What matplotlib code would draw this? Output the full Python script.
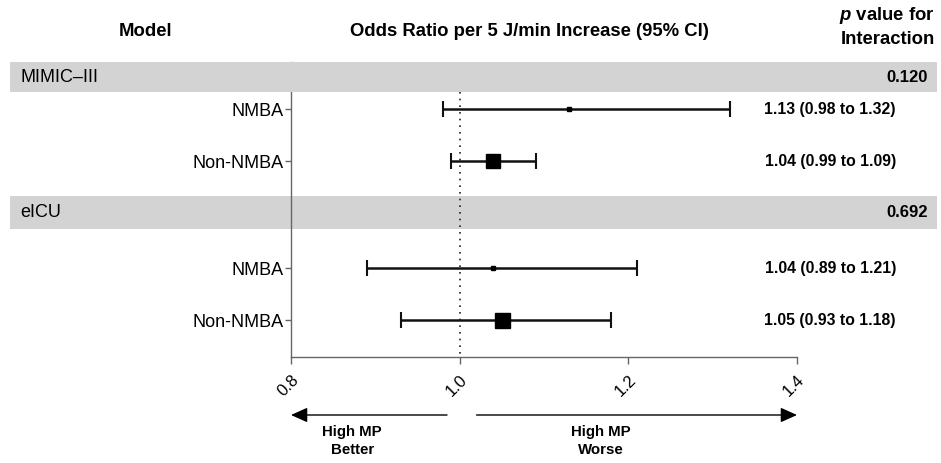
import numpy as np
import matplotlib.pyplot as plt
from matplotlib.patches import Rectangle
from matplotlib.transforms import blended_transform_factory

plt.rcParams['font.family'] = ['Liberation Sans', 'DejaVu Sans']
plt.rcParams['mathtext.fontset'] = 'custom'
plt.rcParams['mathtext.rm'] = 'Liberation Sans:bold'
plt.rcParams['mathtext.it'] = 'Liberation Sans:italic:bold'

# data
groups = ["MIMIC\u2013III", "eICU"]
p_interaction = ["0.120", "0.692"]
subgroups = ["NMBA", "Non-NMBA", "NMBA", "Non-NMBA"]
or_est = [1.13, 1.04, 1.04, 1.05]
ci_lo = [0.98, 0.99, 0.89, 0.93]
ci_hi = [1.32, 1.09, 1.21, 1.18]
box_px = [5, 14, 4, 15]          # marker size (weight) in pixels
xticks = [0.8, 1.0, 1.2, 1.4]

# layout (row positions, in row units)
group_y = [0.0, 2.6]
row_y = [0.62, 1.62, 3.67, 4.67]

fig = plt.figure(figsize=(9.41, 4.63), dpi=100)
ax = fig.add_axes([291 / 941, 1 - 357 / 463, 506 / 941, (357 - 62) / 463])
ax.set_xlim(0.8, 1.4)
ax.set_ylim(5.38, -0.29)
ax.patch.set_alpha(0)

band_tr = blended_transform_factory(fig.transFigure, ax.transData)
for i, (g, p) in enumerate(zip(groups, p_interaction)):
    y = group_y[i]
    h = 0.58 if i == 0 else 0.64
    ax.add_patch(Rectangle((10 / 941, y - h / 2), 927 / 941, h, transform=band_tr,
                           facecolor='#d3d3d3', edgecolor='none', clip_on=False,
                           zorder=3 if i == 0 else 0.5))
    ax.text(20 / 941, y, g, transform=band_tr, ha='left', va='center',
            fontsize=13, zorder=4)
    ax.text(928 / 941, y, p, transform=band_tr, ha='right', va='center',
            fontsize=12, fontweight='bold', zorder=4)

ax.vlines(1.0, 0.29, 5.38, colors='#222222', linestyles=(0, (1, 3)), linewidth=1.2, zorder=1)

for i in range(len(or_est)):
    y = row_y[i]
    ax.errorbar(or_est[i], y, xerr=[[or_est[i] - ci_lo[i]], [ci_hi[i] - or_est[i]]],
                fmt='s', color='black', ecolor='#111111', elinewidth=1.8,
                capsize=5.5, capthick=1.5, markersize=box_px[i] * 0.72, zorder=5)
    txt = f"{or_est[i]:.2f} ({ci_lo[i]:.2f} to {ci_hi[i]:.2f})"
    ax.text(896 / 941, y, txt, transform=band_tr, ha='right', va='center',
            fontsize=11.3, fontweight='bold')

ax.set_yticks(row_y)
ax.set_yticklabels(subgroups, fontsize=13)
ax.set_xticks(xticks)
ax.set_xticklabels([f"{t:.1f}" for t in xticks], fontsize=12, rotation=45,
                   ha='right', rotation_mode='anchor')
ax.tick_params(axis='both', colors='#666666', labelcolor='black', length=5, width=1)
ax.tick_params(axis='y', length=4, pad=1)
ax.tick_params(axis='x', pad=6)
for s in ['top', 'right']:
    ax.spines[s].set_visible(False)
for s in ['left', 'bottom']:
    ax.spines[s].set_color('#666666')
    ax.spines[s].set_linewidth(1)

# headers
fig.text(145 / 941, 1 - 31 / 463, "Model", ha='center', va='center', fontsize=13.3, fontweight='bold')
fig.text(529 / 941, 1 - 31 / 463, "Odds Ratio per 5 J/min Increase (95% CI)", ha='center',
         va='center', fontsize=13.3, fontweight='bold')
fig.text(935 / 941, 1 - 16 / 463, r"$p$ value for", ha='right', va='center',
         fontsize=13.3, fontweight='bold')
fig.text(935 / 941, 1 - 39 / 463, "Interaction", ha='right', va='center', fontsize=13.3,
         fontweight='bold')

# direction arrows
arr_tr = blended_transform_factory(ax.transData, ax.transAxes)
ay = (357 - 415) / (357 - 62)
head = '-|>,head_length=1.0,head_width=0.45'
ax.annotate('', xy=(0.8, ay), xytext=(0.985, ay), xycoords=arr_tr, textcoords=arr_tr,
            arrowprops=dict(arrowstyle=head, color='black', lw=1, shrinkA=0, shrinkB=0))
ax.annotate('', xy=(1.4, ay), xytext=(1.02, ay), xycoords=arr_tr, textcoords=arr_tr,
            arrowprops=dict(arrowstyle=head, color='black', lw=1, shrinkA=0, shrinkB=0))
ty = (357 - 441) / (357 - 62)
ax.text(0.8725, ty, "High MP\nBetter", transform=arr_tr, ha='center', va='center',
        fontsize=10.8, fontweight='bold', linespacing=1.3)
ax.text(1.1675, ty, "High MP\nWorse", transform=arr_tr, ha='center', va='center',
        fontsize=10.8, fontweight='bold', linespacing=1.3)

fig.savefig('out.png', dpi=100)
